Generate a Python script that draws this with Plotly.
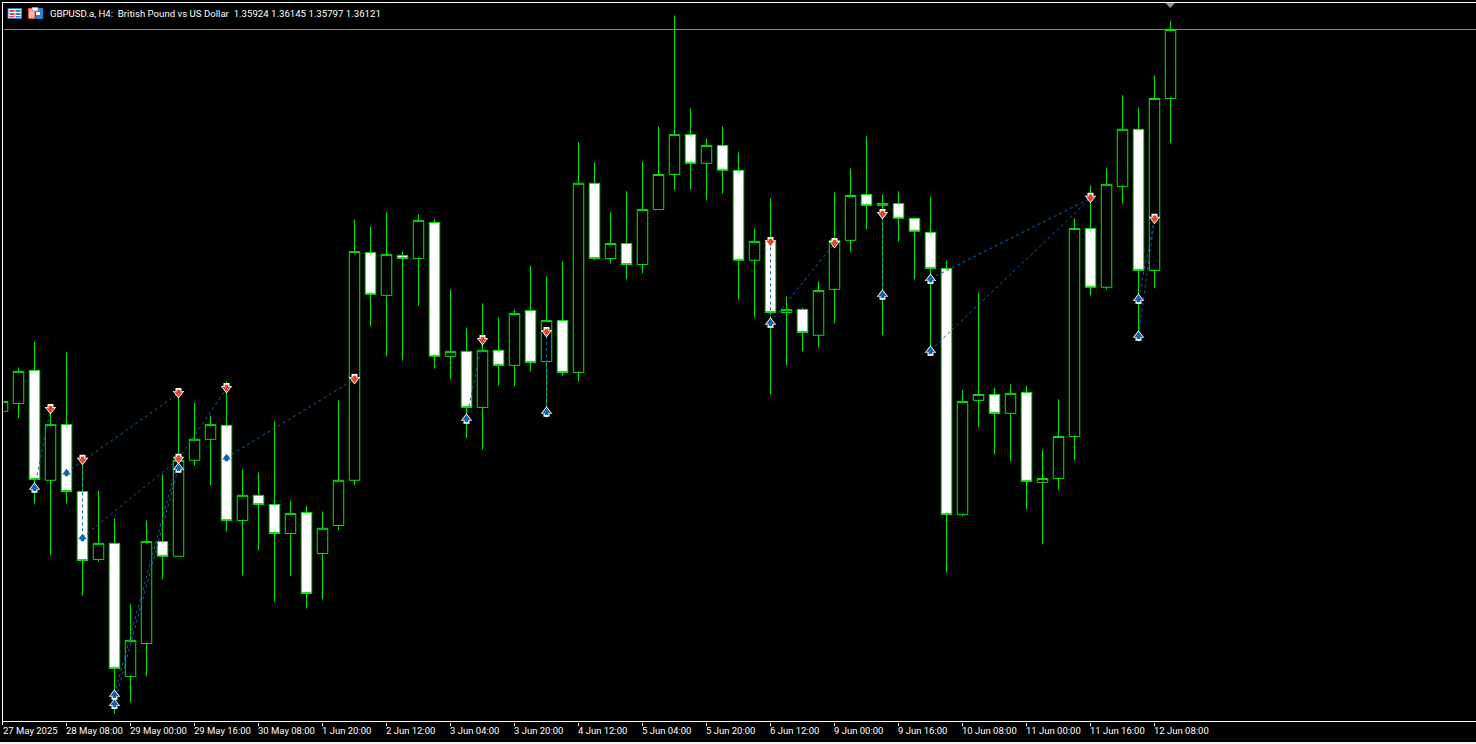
import plotly.graph_objects as go

# ---------- data ----------
opens = [1.35031,1.35053,1.35148,1.34834,1.34993,1.34802,1.34608,1.34654,1.34274,1.34368,1.34659,1.34617,1.34891,1.34951,1.34991,1.34719,1.34791,1.34765,1.34682,1.34742,1.34625,1.34705,1.34834,1.35484,1.35362,1.35476,1.35467,1.35570,1.35188,1.35202,1.35042,1.35205,1.35162,1.35319,1.35173,1.35290,1.35142,1.35682,1.35467,1.35510,1.35450,1.35607,1.35707,1.35821,1.35739,1.35790,1.35719,1.35462,1.35516,1.35313,1.35322,1.35248,1.35379,1.35519,1.35650,1.35619,1.35624,1.35582,1.35542,1.35439,1.34736,1.35062,1.35079,1.35025,1.35085,1.34828,1.34839,1.34959,1.35553,1.35385,1.35673,1.35836,1.35433,1.35924]
highs = [1.35071,1.35156,1.35230,1.35051,1.35199,1.34896,1.34805,1.34725,1.34480,1.34719,1.34851,1.35085,1.35056,1.35019,1.35116,1.34865,1.34856,1.35002,1.34776,1.34762,1.34745,1.35062,1.35579,1.35559,1.35599,1.35487,1.35593,1.35579,1.35379,1.35270,1.35339,1.35299,1.35322,1.35447,1.35416,1.35459,1.35799,1.35742,1.35599,1.35659,1.35744,1.35844,1.36161,1.35896,1.35810,1.35844,1.35770,1.35553,1.35639,1.35359,1.35327,1.35402,1.35656,1.35724,1.35816,1.35650,1.35659,1.35582,1.35644,1.35462,1.35091,1.35370,1.35099,1.35108,1.35105,1.34922,1.35065,1.35582,1.35676,1.35727,1.35933,1.35899,1.35990,1.36145]
lows = [1.35019,1.35011,1.34768,1.34620,1.34768,1.34505,1.34602,1.34168,1.34200,1.34274,1.34551,1.34617,1.34876,1.34819,1.34688,1.34562,1.34634,1.34488,1.34560,1.34468,1.34494,1.34691,1.34819,1.35273,1.35188,1.35176,1.35333,1.35153,1.35122,1.34954,1.34922,1.35105,1.35102,1.35145,1.35013,1.35133,1.35116,1.35462,1.35453,1.35408,1.35425,1.35607,1.35662,1.35664,1.35633,1.35653,1.35350,1.35299,1.35079,1.35162,1.35202,1.35213,1.35282,1.35487,1.35550,1.35248,1.35516,1.35408,1.35208,1.34571,1.34731,1.34985,1.34908,1.34888,1.34751,1.34651,1.34808,1.34891,1.35362,1.35379,1.35624,1.35230,1.35382,1.35797]
closes = [1.35059,1.35145,1.34836,1.34993,1.34802,1.34605,1.34654,1.34297,1.34377,1.34659,1.34617,1.34891,1.34951,1.34993,1.34719,1.34791,1.34765,1.34682,1.34739,1.34511,1.34697,1.34834,1.35487,1.35365,1.35479,1.35467,1.35576,1.35188,1.35202,1.35042,1.35205,1.35162,1.35310,1.35170,1.35290,1.35142,1.35682,1.35467,1.35510,1.35450,1.35607,1.35707,1.35821,1.35739,1.35790,1.35719,1.35462,1.35516,1.35313,1.35322,1.35256,1.35376,1.35519,1.35647,1.35619,1.35624,1.35582,1.35545,1.35439,1.34736,1.35059,1.35079,1.35025,1.35082,1.34831,1.34839,1.34959,1.35553,1.35385,1.35679,1.35836,1.35433,1.35924,1.36121]
bars = list(range(len(opens)))

buy_bars = [2,7,7,11,29,34,48,55,58,58,71,71]
buy_prices = [1.34814,1.34223,1.34197,1.34871,1.35011,1.35031,1.35285,1.35365,1.35410,1.35205,1.35353,1.35248]
entry_bars = [4,5,14]
entry_prices = [1.34856,1.34671,1.34899]
sell_bars = [3,5,11,11,14,22,30,34,48,52,55,68,72]
sell_prices = [1.35036,1.34891,1.35082,1.34894,1.35096,1.35122,1.35233,1.35256,1.35513,1.35510,1.35593,1.35639,1.35579]

trade_from_bar = [2,4,5,5,7,7,11,14,29,34,48,48,55,58,58,71,71]
trade_from_price = [1.34814,1.34856,1.34671,1.34671,1.34223,1.34197,1.34894,1.34899,1.35011,1.35031,1.35285,1.35285,1.35365,1.35410,1.35205,1.35353,1.35248]
trade_to_bar = [3,11,5,11,11,11,14,22,30,34,48,52,55,68,68,72,72]
trade_to_price = [1.35036,1.35082,1.34891,1.34894,1.34894,1.34871,1.35096,1.35122,1.35233,1.35256,1.35513,1.35510,1.35593,1.35639,1.35639,1.35579,1.35579]

tick_bars = list(range(0, 73, 4))
tick_labels = ["27 May 2025","28 May 08:00","29 May 00:00","29 May 16:00","30 May 08:00","1 Jun 20:00","2 Jun 12:00","3 Jun 04:00","3 Jun 20:00","4 Jun 12:00","5 Jun 04:00","5 Jun 20:00","6 Jun 12:00","9 Jun 00:00","9 Jun 16:00","10 Jun 08:00","11 Jun 00:00","11 Jun 16:00","12 Jun 08:00"]
header = "GBPUSD.a, H4:\u00a0\u00a0British Pound vs US Dollar\u00a0\u00a01.35924 1.36145 1.35797 1.36121"

# ---------- style / layout constants ----------
W, H = 1476, 744
GREEN = "#00e600"
BLUE = "#1262ac"
RED = "#e2472a"
FONT = "Roboto"
PX_PER_BAR = 16
PRICE_PER_PX = 2.855e-5
def px_x(v): return v / W
def px_y(v): return 1 - v / H

def rect(x0, y0, x1, y1, fill, line=None):
    return dict(type="rect", xref="paper", yref="paper", x0=px_x(x0), x1=px_x(x1), y0=px_y(y0), y1=px_y(y1),
                fillcolor=fill, line=dict(color=line or fill, width=1 if line else 0), layer="above")

def border(x0, y0, x1, y1):
    return dict(type="line", xref="paper", yref="paper", x0=px_x(x0), x1=px_x(x1), y0=px_y(y0), y1=px_y(y1),
                line=dict(color="#ffffff", width=1), layer="above")

fig = go.Figure()
fig.add_trace(go.Candlestick(
    x=bars, open=opens, high=highs, low=lows, close=closes,
    increasing=dict(line=dict(color=GREEN, width=1), fillcolor="#000000"),
    decreasing=dict(line=dict(color=GREEN, width=1), fillcolor="#ffffff"),
    whiskerwidth=0, showlegend=False, name="GBPUSD.a"))

line_x, line_y = [], []
for a, b, c, d in zip(trade_from_bar, trade_from_price, trade_to_bar, trade_to_price):
    line_x += [a, c, None]
    line_y += [b, d, None]
fig.add_trace(go.Scatter(x=line_x, y=line_y, mode="lines", showlegend=False, hoverinfo="skip",
                         line=dict(color=BLUE, width=1, dash="3px,3px")))

def arrow(x, y, color, up, head, stem, off_s):
    a = 0 if up else 180
    fig.add_trace(go.Scatter(x=x, y=y, mode="markers", showlegend=False, hoverinfo="skip",
        marker=dict(symbol="square", size=stem, color=color, line=dict(width=0), angle=a, standoff=off_s)))
    fig.add_trace(go.Scatter(x=x, y=y, mode="markers", showlegend=False, hoverinfo="skip",
        marker=dict(symbol="triangle-up", size=head, color=color, line=dict(width=0), angle=a)))

arrow(buy_bars, buy_prices, "#ffffff", True, 10, 6, 2.5)
arrow(buy_bars, buy_prices, BLUE, True, 7.5, 3.5, 2)
arrow(entry_bars, entry_prices, BLUE, True, 7.5, 3.5, 2)
arrow(sell_bars, sell_prices, "#ffffff", False, 10, 6, 2.5)
arrow(sell_bars, sell_prices, RED, False, 7.5, 3.5, 2)

y_top_px, y_bot_px, x_left_px = 3.5, 721.5, 3.5
def price_at(px): return closes[-1] - (px - 29.5) * PRICE_PER_PX
def bar_at(px): return (px - 2.5) / PX_PER_BAR

shapes = [
    dict(type="line", xref="x", yref="y", x0=bar_at(x_left_px), x1=bar_at(W), y0=closes[-1], y1=closes[-1],
         line=dict(color="#7f8794", width=1), layer="below"),
    dict(type="path", xref="paper", yref="paper", fillcolor="#8c919a", line=dict(width=0), layer="above",
         path=f"M{px_x(1165.5)},{px_y(3)} L{px_x(1175)},{px_y(3)} L{px_x(1170.2)},{px_y(8)} Z"),
    border(2, 2.5, W, 2.5),
    border(2.5, 2, 2.5, 725),
    border(2, 721.5, W, 721.5),
    rect(0, 742, W, H, "#f0f0f0"),
    # window icons
    rect(8, 8.5, 21.5, 18.5, "#ffffff", "#2d7fd0"),
    rect(9.5, 10, 14.5, 12, "#e8483a"), rect(9.5, 13, 14.5, 15, "#e8483a"), rect(9.5, 16, 14.5, 17.5, "#e8483a"),
    rect(15.5, 10, 20.5, 12, "#2d7fd0"), rect(15.5, 13, 20.5, 15, "#2d7fd0"), rect(15.5, 16, 20.5, 17.5, "#2d7fd0"),
    rect(28.5, 8.5, 35, 18.5, "#f7b5a8", "#e8483a"),
    rect(36, 8.5, 42.5, 18.5, "#2d7fd0", "#2d7fd0"),
    rect(32, 7.5, 38, 11, "#ffffff", "#9a9a9a"),
    rect(36, 12, 40, 15, "#ffffff"),
]

annotations = [dict(text=header, xref="paper", yref="paper", x=px_x(48), y=px_y(13.5), xanchor="left", yanchor="middle",
                    showarrow=False, font=dict(family=FONT, size=9.65, color="#ffffff"))]
for b, t in zip(tick_bars, tick_labels):
    annotations.append(dict(text=t, xref="x", yref="paper", x=max(b, bar_at(x_left_px)), xshift=-3, y=px_y(730.5), xanchor="left", yanchor="middle",
                            showarrow=False, font=dict(family=FONT, size=9.5, color="#ffffff")))

fig.update_layout(
    width=W, height=H, margin=dict(l=0, r=0, t=0, b=0), autosize=False,
    paper_bgcolor="#000000", plot_bgcolor="#000000", showlegend=False, boxgap=0.34375, boxgroupgap=0,
    shapes=shapes, annotations=annotations, hovermode=False,
    xaxis=dict(domain=[px_x(x_left_px), 1], range=[bar_at(x_left_px), bar_at(W)], rangeslider=dict(visible=False),
               showgrid=False, zeroline=False, showline=False,
               tickmode="array", tickvals=tick_bars, ticktext=tick_labels, ticks="outside", ticklen=3, tickcolor="#ffffff",
               tickwidth=1, showticklabels=False),
    yaxis=dict(domain=[px_y(y_bot_px), px_y(y_top_px)], range=[price_at(y_bot_px), price_at(y_top_px)],
               showgrid=False, zeroline=False, showline=False,
               showticklabels=False, ticks=""),
)
fig.write_html("out.html", config=dict(displayModeBar=False),
               post_script="document.body.style.margin='0';document.body.style.background='#000';document.body.style.overflow='hidden';")
